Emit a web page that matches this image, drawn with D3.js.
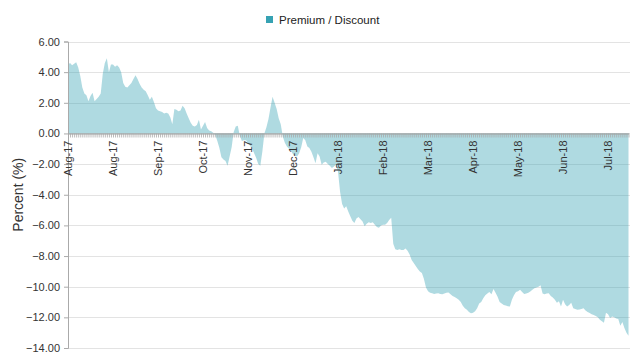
<!DOCTYPE html>
<html><head><meta charset="utf-8">
<script src="https://cdn.jsdelivr.net/npm/d3@7"></script>
<style>body{margin:0;background:#fff;font-family:"Liberation Sans",Arial,sans-serif;}</style>
</head><body><svg id="c" width="640" height="360"></svg>
<script>
const seriesName = "Premium / Discount";
const values = [
4.5,4.6,4.45,4.55,4.65,4.3,3.75,3.0,2.6,2.5,
2.1,2.45,2.65,2.1,2.25,2.4,2.6,3.9,4.6,4.9,
4.0,4.5,4.5,4.35,4.45,4.3,4.0,3.3,3.05,3.0,
3.15,3.3,3.55,3.8,3.55,3.25,3.0,2.85,2.75,2.5,
2.2,2.4,2.05,1.65,1.5,1.45,1.4,1.3,1.35,1.3,
1.05,0.6,1.6,1.55,1.45,1.5,1.8,1.65,1.3,1.0,
0.7,0.5,0.45,0.55,0.9,0.25,0.5,0.75,0.35,0.2,
0.15,0.05,-0.1,-0.5,-0.95,-1.55,-1.7,-1.8,-2.1,-1.5,
-0.9,0.1,0.45,0.5,-0.15,-0.5,-0.45,-0.45,-0.6,-0.8,
-1.0,-1.3,-1.6,-2.0,-2.1,-1.2,0.0,0.4,0.95,1.7,
2.4,2.0,1.6,1.0,0.6,-0.2,-0.6,-0.85,-1.0,-1.15,
-1.35,-1.45,-1.5,-1.3,-0.9,-0.3,-0.45,-0.85,-0.95,-1.2,
-1.55,-1.95,-1.3,-1.5,-2.05,-1.9,-1.85,-2.0,-2.1,-2.25,
-2.15,-2.05,-2.5,-3.8,-4.6,-4.9,-4.75,-5.1,-5.4,-5.7,
-5.85,-5.55,-5.45,-5.6,-5.75,-6.05,-5.9,-5.8,-5.85,-5.8,
-5.95,-6.1,-6.15,-6.0,-5.95,-5.95,-5.85,-5.65,-5.5,-7.2,
-7.55,-7.6,-7.55,-7.6,-7.6,-7.5,-7.65,-7.9,-8.25,-8.45,
-8.65,-8.85,-9.0,-9.1,-9.5,-10.05,-10.3,-10.4,-10.42,-10.48,
-10.45,-10.42,-10.48,-10.5,-10.45,-10.4,-10.38,-10.5,-10.6,-10.68,
-10.75,-10.85,-11.0,-11.25,-11.4,-11.5,-11.65,-11.73,-11.7,-11.6,
-11.4,-11.1,-11.0,-10.75,-10.55,-10.45,-10.35,-10.5,-10.15,-10.4,
-10.65,-11.0,-11.1,-11.2,-11.22,-11.27,-11.3,-10.85,-10.55,-10.35,
-10.3,-10.2,-10.35,-10.48,-10.45,-10.4,-10.32,-10.2,-10.1,-10.05,
-10.0,-9.9,-10.45,-10.5,-10.45,-10.42,-10.6,-10.7,-10.85,-11.05,
-10.95,-11.3,-10.85,-11.15,-11.3,-11.2,-11.05,-11.4,-11.45,-11.5,
-11.48,-11.45,-11.4,-11.55,-11.65,-11.72,-11.8,-11.85,-11.92,-12.0,
-12.15,-12.25,-12.35,-11.7,-11.8,-12.05,-11.95,-12.0,-12.08,-12.1,
-12.55,-12.3,-12.7,-13.0,-13.2
];
const tickLabels = ["Aug-17","Aug-17","Sep-17","Oct-17","Nov-17","Dec-17","Jan-18","Feb-18","Mar-18","Apr-18","May-18","Jun-18","Jul-18"];
const labelEvery = 22;
const yTicks = [6,4,2,0,-2,-4,-6,-8,-10,-12,-14];
const yLabel = "Percent (%)";

const svg = d3.select("#c");
const mLeft = 68, mRight = 630, mTop = 41.5, mBottom = 348;
const color = "#36a2b3";

const x = d3.scalePoint().domain(d3.range(values.length)).range([mLeft, mRight - 1.5]);
const y = d3.scaleLinear().domain([-14, 6]).range([mBottom, mTop]);

// gridlines
svg.append("g").selectAll("line").data(yTicks).join("line")
  .attr("x1", mLeft).attr("x2", mRight)
  .attr("y1", d => Math.round(y(d)) + 0.5).attr("y2", d => Math.round(y(d)) + 0.5)
  .attr("stroke", "#e3e3e3").attr("stroke-width", 1);

// area
const area = d3.area().x((d, i) => x(i)).y0(y(0)).y1(d => y(d));
svg.append("path").datum(values).attr("d", area)
  .attr("fill", color).attr("fill-opacity", 0.4);

// y axis
const yAxis = d3.axisLeft(y).tickValues(yTicks).tickFormat(d3.format(".2f")).tickSize(4).tickPadding(4);
const gy = svg.append("g").attr("transform", `translate(${mLeft},0)`).call(yAxis);
gy.select(".domain").attr("stroke", "#aaa");
gy.selectAll(".tick line").attr("stroke", "#aaa");
gy.selectAll("text").attr("fill", "#333").style("font-size", "11px").style("font-family", "Liberation Sans, Arial, sans-serif");

// x axis on zero line
const xAxis = d3.axisBottom(x).tickSize(4).tickSizeOuter(0)
  .tickFormat(i => i % labelEvery === 0 ? tickLabels[i / labelEvery] : "");
const gx = svg.append("g").attr("transform", `translate(0,${Math.round(y(0)) + 0.5})`).call(xAxis);
gx.select(".domain").attr("stroke", "#999");
gx.selectAll(".tick line").attr("stroke", "#aaa").attr("stroke-width", 0.8);
gx.selectAll(".tick text")
  .attr("transform", "rotate(-90)")
  .attr("text-anchor", "end")
  .attr("x", -7).attr("y", 0).attr("dy", "0.35em")
  .attr("fill", "#333").style("font-size", "11px").style("font-family", "Liberation Sans, Arial, sans-serif");

// y label
svg.append("text").attr("transform", `translate(23,${(mTop + mBottom) / 2}) rotate(-90)`)
  .attr("text-anchor", "middle").attr("fill", "#333")
  .style("font-size", "14px").text(yLabel);

// legend
const lg = svg.append("g").attr("transform", "translate(266,16)");
lg.append("rect").attr("width", 7).attr("height", 7).attr("fill", color);
lg.append("text").attr("x", 13).attr("y", 7.5).attr("fill", "#222").style("font-size", "11.5px").text(seriesName);
</script></body></html>
